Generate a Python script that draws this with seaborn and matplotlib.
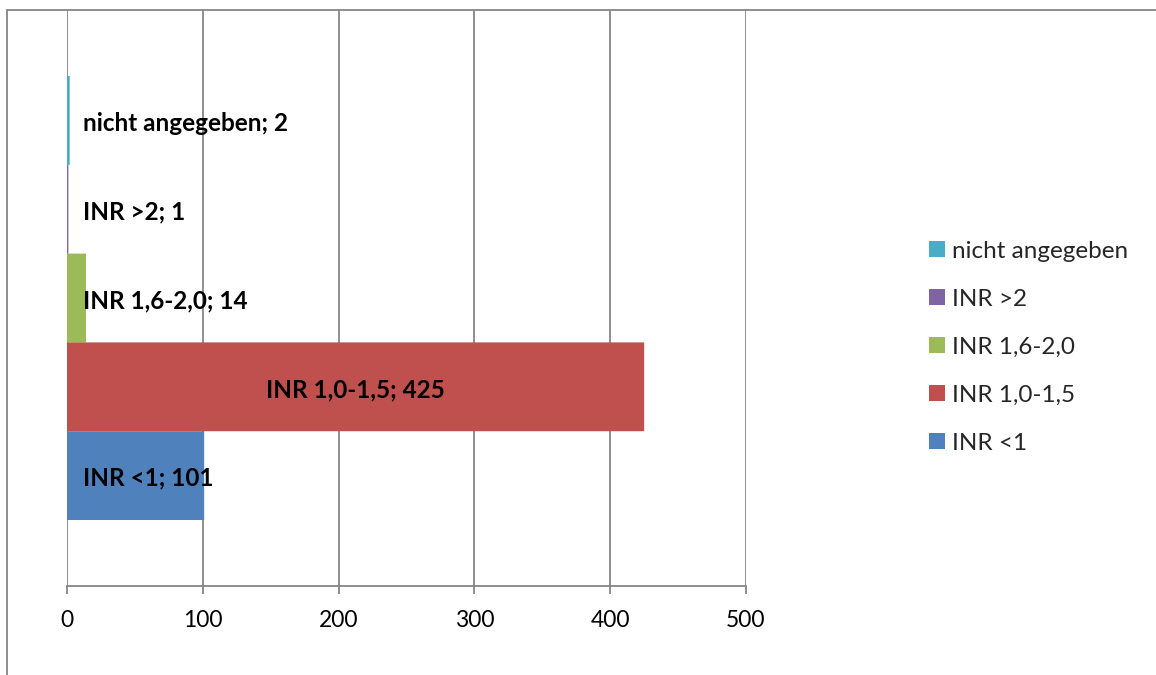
import matplotlib
matplotlib.use("Agg")
import matplotlib.pyplot as plt
from matplotlib.patches import Patch, Rectangle
import seaborn as sns
import pandas as pd

# INR groups, listed top to bottom as they appear on the chart
categories = ["nicht angegeben", "INR >2", "INR 1,6-2,0", "INR 1,0-1,5", "INR <1"]
counts = [2, 1, 14, 425, 101]
colors = ["#4BACC6", "#8064A2", "#9BBB59", "#C0504D", "#4F81BD"]
x_ticks = [0, 100, 200, 300, 400, 500]

df = pd.DataFrame({"Gruppe": categories, "Anzahl": counts})
palette = dict(zip(categories, colors))

sns.set_theme(style="white")
plt.rcParams["font.family"] = ["Lato", "DejaVu Sans"]

W, H = 1156, 675
fig = plt.figure(figsize=(W / 100, H / 100), dpi=100)
ax = fig.add_axes([67 / W, 1 - 586 / H, (746 - 67) / W, (586 - 10) / H])

sns.barplot(data=df, x="Anzahl", y="Gruppe", hue="Gruppe", order=categories,
            hue_order=categories, palette=palette, width=1.0, orient="h",
            saturation=1, legend=False, linewidth=0, edgecolor="none", ax=ax)

# keep the very thin bars from being snapped away to zero width
for bar in ax.patches:
    bar.set_snap(False)
    bar.set_zorder(3)

ax.set_xlim(0, 500)
ax.set_ylim(4.5 + 0.743, -0.5 - 0.743)
ax.set_xticks(x_ticks)
ax.set_xticklabels([str(t) for t in x_ticks])
ax.set_yticks([])
ax.set_xlabel("")
ax.set_ylabel("")

grid_col = "#868686"
ax.set_axisbelow(True)
ax.xaxis.grid(True, color=grid_col, linewidth=1.3)
ax.yaxis.grid(False)
for side in ["top", "right", "left"]:
    ax.spines[side].set_visible(False)
ax.spines["bottom"].set_color(grid_col)
ax.spines["bottom"].set_linewidth(1.3)
ax.tick_params(axis="x", which="major", bottom=True, length=6, width=1.3,
               color=grid_col, pad=11.5, labelsize=16.5, labelcolor="#000000")

# value labels: centred on each bar, kept clear of the left edge
texts = []
for i, (cat, val) in enumerate(zip(categories, counts)):
    t = ax.text(val / 2, i + 0.03, f"{cat}; {val}", ha="center", va="center",
                fontsize=17.5, fontweight="bold", color="#000000", zorder=4)
    texts.append(t)

fig.canvas.draw()
renderer = fig.canvas.get_renderer()
min_left_px = 83
for t in texts:
    bb = t.get_window_extent(renderer)
    if bb.x0 < min_left_px:
        shift = min_left_px - bb.x0
        x_disp, y_disp = ax.transData.transform(t.get_position())
        new_x = ax.transData.inverted().transform((x_disp + shift, y_disp))[0]
        t.set_x(new_x)

# legend on the right
handles = [Patch(facecolor=palette[c], edgecolor="none") for c in categories]
fig.legend(handles, categories, loc="upper left",
           bbox_to_anchor=(919 / W, 1 - 231 / H), frameon=False,
           fontsize=17.5, handlelength=0.65, handleheight=0.65,
           handletextpad=0.3, labelspacing=1.11, borderaxespad=0)

# outer chart frame
fig.patches.append(Rectangle((7 / W, -0.1), 1.2, 1 - 10 / H + 0.1,
                             transform=fig.transFigure, fill=False,
                             edgecolor=grid_col, linewidth=1.3))

fig.savefig("out.png", dpi=100)
